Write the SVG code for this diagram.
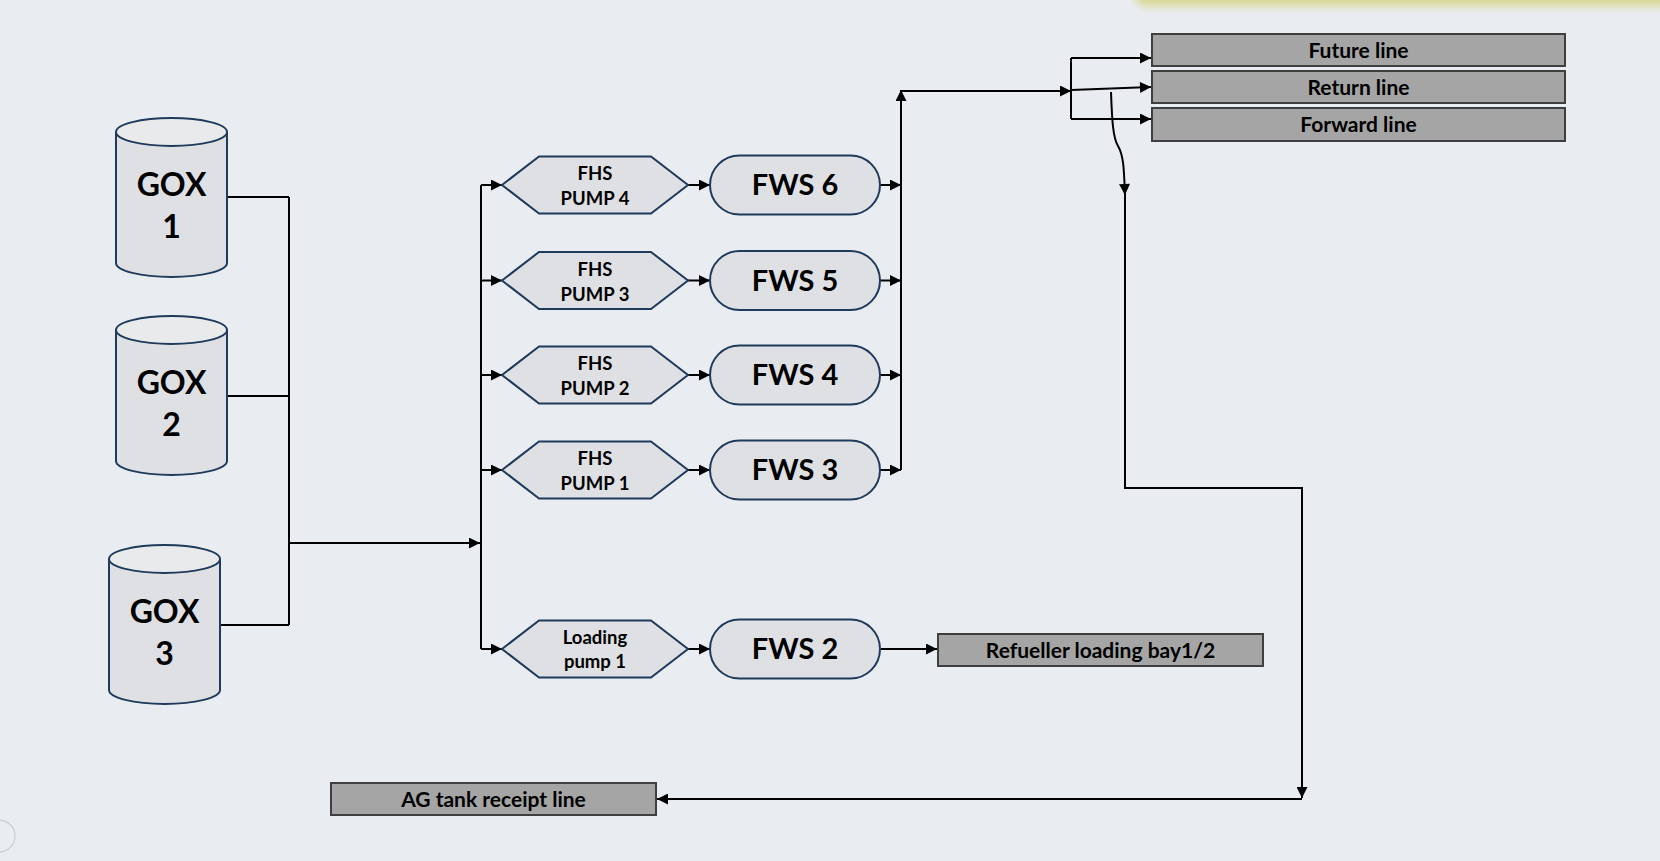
<svg xmlns="http://www.w3.org/2000/svg" width="1660" height="861" viewBox="0 0 1660 861">
<defs>
<style>
.bg{fill:#e9edf2}
.node{fill:#dfe0e4;stroke:#1f3a5a;stroke-width:2}
.top{fill:#e9eaec;stroke:#1f3a5a;stroke-width:2}
.box{fill:#a5a5a5;stroke:#3f3f3f;stroke-width:2}
.c{fill:none;stroke:#000;stroke-width:2}
.ca{fill:none;stroke:#000;stroke-width:2;marker-end:url(#ah)}
text{font-family:Lato,"Noto Sans","Liberation Sans",sans-serif;font-weight:bold;fill:#000;text-anchor:middle}
.gox{font-size:32px}
.pump{font-size:18.5px}
.fws{font-size:29px}
.lbl{font-size:21px}
</style>
<marker id="ah" viewBox="0 0 10 10" refX="10" refY="5" markerUnits="userSpaceOnUse" markerWidth="12" markerHeight="11" orient="auto">
<path d="M0,0 L10,5 L0,10 z" fill="#000"/>
</marker>
<filter id="blur" x="-20%" y="-200%" width="140%" height="500%"><feGaussianBlur stdDeviation="5"/></filter>
</defs>
<rect class="bg" x="0" y="0" width="1660" height="861"/>
<rect x="1135" y="-14" width="540" height="20" rx="10" fill="#d8d690" filter="url(#blur)"/>
<circle cx="-1" cy="836" r="16" fill="none" stroke="#c9cbd0" stroke-width="1.2"/>

<g id="connectors">
<path class="c" d="M227,197 H289"/>
<path class="c" d="M227,396 H289"/>
<path class="c" d="M220,625 H289"/>
<path class="c" d="M289,197 V625"/>
<path class="ca" d="M289,543 H480"/>
<path class="c" d="M481,185 V649"/>
<path class="ca" d="M481,185 H502"/>
<path class="ca" d="M481,280.5 H502"/>
<path class="ca" d="M481,375 H502"/>
<path class="ca" d="M481,470 H502"/>
<path class="ca" d="M481,649 H502"/>
<path class="ca" d="M688,185 H710"/>
<path class="ca" d="M688,280.5 H710"/>
<path class="ca" d="M688,375 H710"/>
<path class="ca" d="M688,470 H710"/>
<path class="ca" d="M688,649 H710"/>
<path class="ca" d="M880,185 H901"/>
<path class="ca" d="M880,280.5 H901"/>
<path class="ca" d="M880,375 H901"/>
<path class="ca" d="M880,470 H901"/>
<path class="ca" d="M901,470 V90"/>
<path class="ca" d="M901,91 H1071"/>
<path class="c" d="M1071,58 V119"/>
<path class="ca" d="M1071,58 H1151"/>
<path class="ca" d="M1071,90 L1151,87"/>
<path class="ca" d="M1071,119 H1151"/>
<path class="ca" d="M1111,92 C1112,120 1113,138 1118,146 C1124,156 1124,172 1125,195"/>
<path class="ca" d="M1125,195 V488 H1302 V798"/>
<path class="ca" d="M1302,799 H657"/>
<path class="ca" d="M881,649 H937"/>
</g>

<g id="gox1">
<path class="node" d="M116,132 V263 A55.5,14 0 0 0 227,263 V132"/>
<ellipse class="top" cx="171.5" cy="132" rx="55.5" ry="14"/>
<text class="gox" x="171.5" y="196">GOX</text>
<text class="gox" x="171.5" y="238">1</text>
</g>
<g id="gox2">
<path class="node" d="M116,330 V461 A55.5,14 0 0 0 227,461 V330"/>
<ellipse class="top" cx="171.5" cy="330" rx="55.5" ry="14"/>
<text class="gox" x="171.5" y="394">GOX</text>
<text class="gox" x="171.5" y="436">2</text>
</g>
<g id="gox3">
<path class="node" d="M109,559 V690 A55.5,14 0 0 0 220,690 V559"/>
<ellipse class="top" cx="164.5" cy="559" rx="55.5" ry="14"/>
<text class="gox" x="164.5" y="623">GOX</text>
<text class="gox" x="164.5" y="665">3</text>
</g>

<g id="pump4">
<polygon class="node" points="502,185 539,156.5 651,156.5 688,185 651,213.5 539,213.5"/>
<text class="pump" x="595" y="180">FHS</text>
<text class="pump" x="595" y="205">PUMP 4</text>
</g>
<g id="pump3">
<polygon class="node" points="502,280.5 539,252 651,252 688,280.5 651,309 539,309"/>
<text class="pump" x="595" y="275.5">FHS</text>
<text class="pump" x="595" y="300.5">PUMP 3</text>
</g>
<g id="pump2">
<polygon class="node" points="502,375 539,346.5 651,346.5 688,375 651,403.5 539,403.5"/>
<text class="pump" x="595" y="370">FHS</text>
<text class="pump" x="595" y="395">PUMP 2</text>
</g>
<g id="pump1">
<polygon class="node" points="502,470 539,441.5 651,441.5 688,470 651,498.5 539,498.5"/>
<text class="pump" x="595" y="465">FHS</text>
<text class="pump" x="595" y="490">PUMP 1</text>
</g>
<g id="loadingpump1">
<polygon class="node" points="502,649 539,620.5 651,620.5 688,649 651,677.5 539,677.5"/>
<text class="pump" x="595" y="644">Loading</text>
<text class="pump" x="595" y="668">pump 1</text>
</g>

<g id="fws6">
<rect class="node" x="710" y="155.5" width="170" height="59" rx="29.5"/>
<text class="fws" x="795" y="195">FWS 6</text>
</g>
<g id="fws5">
<rect class="node" x="710" y="251" width="170" height="59" rx="29.5"/>
<text class="fws" x="795" y="290.5">FWS 5</text>
</g>
<g id="fws4">
<rect class="node" x="710" y="345.5" width="170" height="59" rx="29.5"/>
<text class="fws" x="795" y="385">FWS 4</text>
</g>
<g id="fws3">
<rect class="node" x="710" y="440.5" width="170" height="59" rx="29.5"/>
<text class="fws" x="795" y="480">FWS 3</text>
</g>
<g id="fws2">
<rect class="node" x="710" y="619.5" width="170" height="59" rx="29.5"/>
<text class="fws" x="795" y="659">FWS 2</text>
</g>

<g id="futureline">
<rect class="box" x="1152" y="34" width="413" height="32"/>
<text class="lbl" x="1358.5" y="57.5">Future line</text>
</g>
<g id="returnline">
<rect class="box" x="1152" y="71" width="413" height="32"/>
<text class="lbl" x="1358.5" y="94.5">Return line</text>
</g>
<g id="forwardline">
<rect class="box" x="1152" y="108" width="413" height="33"/>
<text class="lbl" x="1358.5" y="132">Forward line</text>
</g>
<g id="refueller">
<rect class="box" x="938" y="634" width="325" height="32"/>
<text class="lbl" x="1100.5" y="657.5">Refueller loading bay1/2</text>
</g>
<g id="agtank">
<rect class="box" x="331" y="783" width="325" height="32"/>
<text class="lbl" x="493.5" y="806.5">AG tank receipt line</text>
</g>
</svg>
